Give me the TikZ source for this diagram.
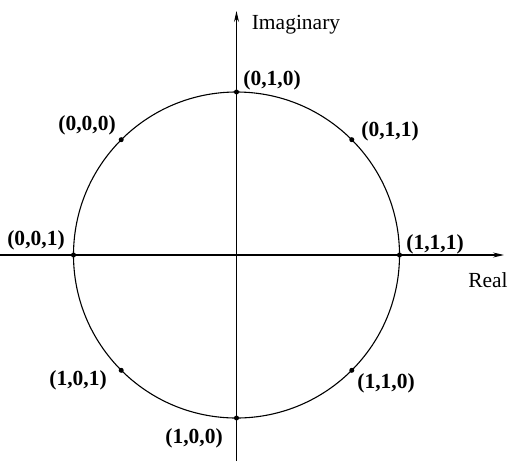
\documentclass[tikz,border=0pt]{standalone}
\usepackage{fontspec}
\setmainfont{Liberation Serif}
\usetikzlibrary{arrows.meta}
\begin{document}
\begin{tikzpicture}[x=1pt,y=-1pt,
  axis/.style={line width=1.1pt,-{Stealth[length=11pt,width=5pt]}},
  circ/.style={line width=1.1pt},
  dot/.style={circle,fill=black,inner sep=0pt,minimum size=5pt},
  lbl/.style={font=\fontsize{21.5}{24}\selectfont\bfseries,inner sep=0pt},
  axl/.style={font=\fontsize{21.5}{24}\selectfont,inner sep=0pt}]
\useasboundingbox (0,0) rectangle (508,461);
\coordinate (O) at (236.5,255);
\coordinate (xl) at (0,255);
\coordinate (xr) at (504,255);
\coordinate (yb) at (236.5,461);
\coordinate (yt) at (236.5,11);
\draw[axis] (xl) -- (xr);
\draw[axis] (yb) -- (yt);
\draw[circ] (O) circle[radius=163];
\node[dot] (p010) at (236.5,92) {};
\node[dot] (p001) at (73.5,255) {};
\node[dot] (p111) at (399.5,255) {};
\node[dot] (p100) at (236.5,418) {};
\node[dot] (p000) at (121.2,139.7) {};
\node[dot] (p011) at (351.8,139.7) {};
\node[dot] (p101) at (121.2,370.3) {};
\node[dot] (p110) at (351.8,370.3) {};
\node[axl] (im) at (296,25) {Imaginary};
\node[axl] (re) at (488,280) {Real};
\node[lbl] (l010) at (272,80) {(0,1,0)};
\node[lbl] (l001) at (36,240) {(0,0,1)};
\node[lbl] (l111) at (435,244) {(1,1,1)};
\node[lbl] (l100) at (194,438) {(1,0,0)};
\node[lbl] (l000) at (87,125) {(0,0,0)};
\node[lbl] (l011) at (390,131) {(0,1,1)};
\node[lbl] (l101) at (78,380) {(1,0,1)};
\node[lbl] (l110) at (386,383) {(1,1,0)};
\end{tikzpicture}
\end{document}
